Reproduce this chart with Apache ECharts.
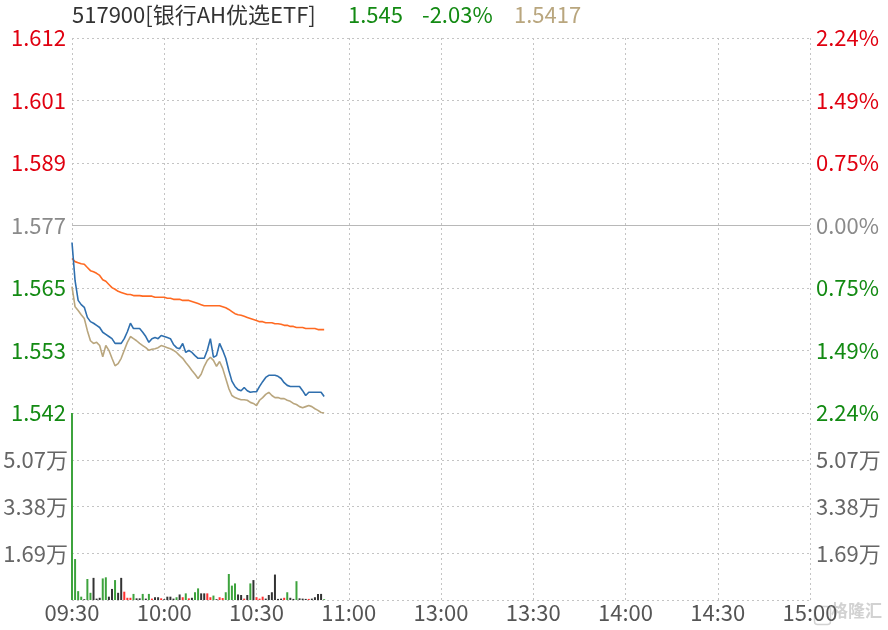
<!DOCTYPE html>
<html>
<head>
<meta charset="utf-8">
<script src="https://cdn.jsdelivr.net/npm/echarts@6/dist/echarts.min.js"></script>
<style>html,body{margin:0;padding:0;background:#fff}#c{width:888px;height:630px}</style>
</head>
<body>
<div id="c"></div>
<script>
const TIME_LABELS = ['09:30','10:00','10:30','11:00','13:00','13:30','14:00','14:30','15:00'];
const PREV_CLOSE = 1.577;
const AXIS_LOW = 1.5417;
const HEADER = ['517900[银行AH优选ETF]', '1.545', '-2.03%', '1.5417'];

const PRICE = [1.5738,1.5666,1.5629,1.5621,1.5616,1.5597,1.5589,1.5586,1.5582,1.5578,
1.5569,1.5565,1.5561,1.5557,1.5548,1.5548,1.5548,1.5557,1.5570,1.5586,
1.5576,1.5576,1.5576,1.5569,1.5561,1.5550,1.5557,1.5559,1.5557,1.5563,
1.5561,1.5559,1.5557,1.5546,1.5540,1.5538,1.5548,1.5531,1.5535,1.5531,
1.5525,1.5520,1.5520,1.5520,1.5535,1.5557,1.5522,1.5525,1.5548,1.5535,
1.5520,1.5497,1.5477,1.5467,1.5461,1.5459,1.5465,1.5459,1.5456,1.5457,
1.5457,1.5467,1.5476,1.5484,1.5488,1.5488,1.5488,1.5486,1.5482,1.5474,
1.5469,1.5467,1.5467,1.5467,1.5467,1.5459,1.5450,1.5456,1.5456,1.5456,
1.5456,1.5456,1.5448];

const IOPV = [1.5655,1.5617,1.5610,1.5602,1.5595,1.5572,1.5553,1.5548,1.5550,1.5544,
1.5523,1.5544,1.5535,1.5520,1.5506,1.5510,1.5520,1.5535,1.5550,1.5561,
1.5557,1.5553,1.5548,1.5544,1.5540,1.5535,1.5537,1.5538,1.5540,1.5544,
1.5542,1.5540,1.5538,1.5535,1.5531,1.5525,1.5520,1.5512,1.5505,1.5497,
1.5490,1.5482,1.5490,1.5505,1.5516,1.5522,1.5516,1.5505,1.5514,1.5501,
1.5482,1.5463,1.5450,1.5446,1.5444,1.5442,1.5442,1.5441,1.5437,1.5435,
1.5431,1.5441,1.5446,1.5452,1.5456,1.5450,1.5446,1.5446,1.5444,1.5444,
1.5441,1.5439,1.5435,1.5433,1.5429,1.5427,1.5429,1.5431,1.5429,1.5425,
1.5422,1.5418,1.5417];

const AVG = [1.5708,1.5702,1.5700,1.5698,1.5697,1.5691,1.5685,1.5683,1.5680,1.5676,
1.5668,1.5665,1.5659,1.5653,1.5650,1.5646,1.5644,1.5642,1.5640,1.5640,
1.5638,1.5638,1.5638,1.5637,1.5637,1.5637,1.5637,1.5635,1.5635,1.5635,
1.5635,1.5633,1.5633,1.5631,1.5631,1.5631,1.5629,1.5629,1.5629,1.5627,
1.5625,1.5623,1.5621,1.5619,1.5619,1.5619,1.5619,1.5619,1.5619,1.5617,
1.5615,1.5612,1.5608,1.5604,1.5602,1.5601,1.5599,1.5597,1.5595,1.5593,
1.5591,1.5589,1.5589,1.5587,1.5587,1.5587,1.5585,1.5585,1.5584,1.5582,
1.5582,1.5580,1.5580,1.5578,1.5578,1.5578,1.5576,1.5576,1.5576,1.5576,
1.5574,1.5574,1.5574];

const VOLUME = [67600,14800,3200,1200,300,7600,2600,8000,500,800,
7800,8200,1200,4000,7200,2600,8000,3000,800,800,
2200,600,600,2200,500,2200,500,1000,1000,600,
300,1200,1200,500,1000,2000,1000,2400,600,800,
2800,4200,2400,2400,2400,1000,1600,300,1000,700,
2800,9400,5200,6000,2000,1800,500,1800,6000,7200,
1000,500,1200,500,1800,2800,9200,400,500,800,
2800,800,400,6800,600,500,400,400,500,1000,
2200,2200,300];

// g = down (green), r = up (red), k = flat (dark)
const VOL_DIR = ['g','g','g','g','k','g','g','k','k','k',
'g','g','k','k','g','k','k','r','r','r',
'g','k','k','g','k','g','r','k','k','r',
'k','k','k','k','g','k','r','g','r','k',
'g','g','k','k','r','r','g','k','r','r',
'g','g','g','g','k','k','r','k','g','k',
'r','r','r','k','k','k','k','k','k','r',
'g','k','k','g','k','k','k','r','k','k',
'k','k','g'];

const STEP = (PREV_CLOSE - AXIS_LOW) / 3;
const VOL_MAX = 67600, VOL_STEP = 16900;
const FONT = '"Noto Sans CJK SC", "Noto Sans", sans-serif';
const FS = 22;
const RED = '#e00010', GREEN = '#138a13', GRAY = '#8a8a8a', TAN = '#b9a67e';
const DIR_COLOR = {g:'#3da33d', r:'#ff3030', k:'#333333'};

const toY = p => (p - PREV_CLOSE) / STEP;
const rich = {
  u:{color:RED, fontSize:FS, fontFamily:FONT},
  d:{color:GREEN, fontSize:FS, fontFamily:FONT},
  z:{color:GRAY, fontSize:FS, fontFamily:FONT}
};
const tag = v => v > 0.01 ? 'u' : (v < -0.01 ? 'd' : 'z');

const gridLine = {show:true, lineStyle:{color:'#c4c4c4', type:[2,3], width:1}};

const chart = echarts.init(document.getElementById('c'), null, {renderer:'canvas'});
chart.setOption({
  animation:false,
  backgroundColor:'#fff',
  textStyle:{fontFamily:FONT},
  grid:[
    {left:72, right:78, top:38, height:375},
    {left:72, right:78, top:413, height:187}
  ],
  xAxis:[
    {type:'value', gridIndex:0, min:0, max:240, interval:30,
     axisLabel:{show:false}, axisTick:{show:false}, axisLine:{show:false}, splitLine:gridLine},
    {type:'value', gridIndex:1, min:0, max:240, interval:30,
     axisTick:{show:false}, axisLine:{show:false}, splitLine:gridLine,
     axisLabel:{show:true, color:'#555', fontSize:FS, fontFamily:FONT, margin:2,
       formatter:v => TIME_LABELS[Math.round(v/30)]}}
  ],
  yAxis:[
    {type:'value', gridIndex:0, position:'left', min:-3, max:3, interval:1,
     axisLine:{show:false}, axisTick:{show:false}, splitLine:gridLine,
     axisLabel:{margin:6, formatter:v => '{'+tag(v)+'|'+(PREV_CLOSE + v*STEP).toFixed(3)+'}', rich:rich}},
    {type:'value', gridIndex:0, position:'right', min:-3, max:3, interval:1,
     axisLine:{show:false}, axisTick:{show:false}, splitLine:{show:false},
     axisLabel:{margin:6, formatter:v => '{'+tag(v)+'|'+Math.abs(v*STEP/PREV_CLOSE*100).toFixed(2)+'%}', rich:rich}},
    {type:'value', gridIndex:1, position:'left', min:0, max:VOL_MAX, interval:VOL_STEP,
     axisLine:{show:false}, axisTick:{show:false}, splitLine:gridLine,
     axisLabel:{margin:4, color:'#666', fontSize:FS, fontFamily:FONT,
       formatter:v => (v <= 0 || v >= VOL_MAX) ? '' : (v/10000).toFixed(2)+'万'}},
    {type:'value', gridIndex:1, position:'right', min:0, max:VOL_MAX, interval:VOL_STEP,
     axisLine:{show:false}, axisTick:{show:false}, splitLine:{show:false},
     axisLabel:{margin:6, color:'#666', fontSize:FS, fontFamily:FONT,
       formatter:v => (v <= 0 || v >= VOL_MAX) ? '' : (v/10000).toFixed(2)+'万'}}
  ],
  series:[
    {type:'line', xAxisIndex:0, yAxisIndex:0, showSymbol:false, silent:true,
     data:AVG.map((p,i)=>[i,toY(p)]), lineStyle:{color:'#ff6a22', width:1.6},
     markLine:{silent:true, symbol:'none', label:{show:false},
       lineStyle:{color:'#b8b8b8', type:'solid', width:1}, data:[{yAxis:0}]}},
    {type:'line', xAxisIndex:0, yAxisIndex:0, showSymbol:false, silent:true,
     data:IOPV.map((p,i)=>[i,toY(p)]), lineStyle:{color:TAN, width:1.6}},
    {type:'line', xAxisIndex:0, yAxisIndex:0, showSymbol:false, silent:true,
     data:PRICE.map((p,i)=>[i,toY(p)]), lineStyle:{color:'#2f6fae', width:1.6}},
    {type:'bar', xAxisIndex:1, yAxisIndex:2, barWidth:2, silent:true,
     data:VOLUME.map((v,i)=>({value:[i,v], itemStyle:{color:DIR_COLOR[VOL_DIR[i]]}}))}
  ],
  graphic:[
    {type:'text', left:72, top:4, style:{text:HEADER[0], fill:'#333', font:FS+'px '+FONT}},
    {type:'text', left:348, top:4, style:{text:HEADER[1], fill:GREEN, font:FS+'px '+FONT}},
    {type:'text', left:422, top:4, style:{text:HEADER[2], fill:GREEN, font:FS+'px '+FONT}},
    {type:'text', left:514, top:4, style:{text:HEADER[3], fill:TAN, font:FS+'px '+FONT}},
    {type:'rect', left:812, top:604, shape:{width:16, height:18, r:3},
     style:{fill:'none', stroke:'#d2d2d2', lineWidth:1.5}},
    {type:'text', left:831, top:602, style:{text:'格隆汇', fill:'#d2d2d2', font:'bold 17px '+FONT}}
  ]
});
</script>
</body>
</html>
